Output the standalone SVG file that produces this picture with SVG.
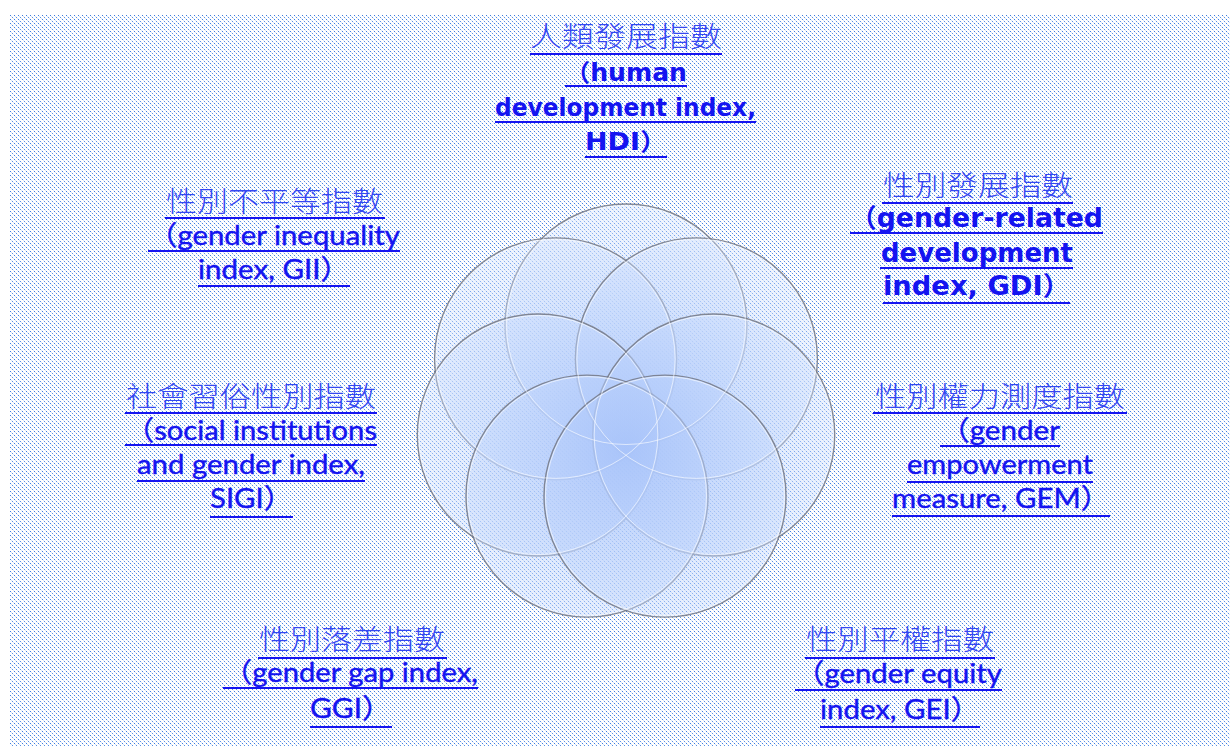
<svg xmlns="http://www.w3.org/2000/svg" width="1230" height="746" viewBox="0 0 1230 746">
<defs>
<pattern id="dots" x="10" y="15" width="4" height="4" patternUnits="userSpaceOnUse">
<rect x="0" y="0" width="1" height="1" fill="#3f7ee0"/>
<rect x="2" y="2" width="1" height="1" fill="#5b91e4"/>
<rect x="1" y="1" width="1" height="1" fill="#d6e3f8"/>
<rect x="3" y="3" width="1" height="1" fill="#dbe6f8"/>
</pattern>
<radialGradient id="cg" gradientUnits="userSpaceOnUse" cx="626" cy="450" r="230">
<stop offset="0" stop-color="#a9c4fa" stop-opacity="0.62"/>
<stop offset="0.6" stop-color="#c3d7fc" stop-opacity="0.48"/>
<stop offset="1" stop-color="#d6e4fd" stop-opacity="0.38"/>
</radialGradient>
</defs>
<style>
.cjk{font-family:"Noto Sans CJK TC","Noto Sans CJK SC",sans-serif;font-weight:300;font-size:28px;fill:#3447f2}
.en{font-family:"Lato","Noto Sans CJK TC",sans-serif;font-size:27px;fill:#1414f0;stroke:#1414f0;stroke-width:0.4}
.enb{font-family:"DejaVu Sans","Noto Sans CJK TC",sans-serif;font-weight:bold;fill:#1414f0}
.ul{stroke:#1414f0;stroke-width:2;fill:none}
.c{fill:url(#cg);stroke:#737782;stroke-width:1.4;stroke-opacity:0.85}
.ci{fill:none;stroke:#ffffff;stroke-width:1;stroke-opacity:0.6}
</style>
<rect width="1230" height="746" fill="#ffffff"/>
<rect x="10" y="15" width="1220" height="731" fill="url(#dots)"/>

<g id="circles">
<circle class="c" cx="626" cy="325" r="121"/>
<circle class="c" cx="555.6" cy="358.9" r="121"/>
<circle class="c" cx="696.4" cy="358.9" r="121"/>
<circle class="c" cx="538.3" cy="435" r="121"/>
<circle class="c" cx="713.7" cy="435" r="121"/>
<circle class="c" cx="587" cy="496.1" r="121"/>
<circle class="c" cx="665" cy="496.1" r="121"/>
<circle class="ci" cx="626" cy="325" r="119.5"/>
<circle class="ci" cx="555.6" cy="358.9" r="119.5"/>
<circle class="ci" cx="696.4" cy="358.9" r="119.5"/>
<circle class="ci" cx="538.3" cy="435" r="119.5"/>
<circle class="ci" cx="713.7" cy="435" r="119.5"/>
<circle class="ci" cx="587" cy="496.1" r="119.5"/>
<circle class="ci" cx="665" cy="496.1" r="119.5"/>
</g>

<g id="connectors"></g>

<g id="hdi">
<text class="cjk" x="530" y="47" textLength="192" lengthAdjust="spacingAndGlyphs">人類發展指數</text>
<text class="enb" font-size="24" x="565" y="81" textLength="122" lengthAdjust="spacingAndGlyphs">（human</text>
<text class="enb" font-size="24" x="495" y="116" textLength="261" lengthAdjust="spacingAndGlyphs">development index,</text>
<text class="enb" font-size="24" x="585" y="150" textLength="82" lengthAdjust="spacingAndGlyphs">HDI）</text>
<path class="ul" d="M530 54H722M565 86H687M495 122H756M585 157H667"/>
</g>

<g id="gdi">
<text class="cjk" x="883" y="196" textLength="190" lengthAdjust="spacingAndGlyphs">性別發展指數</text>
<text class="enb" font-size="26" x="850" y="227" textLength="253" lengthAdjust="spacingAndGlyphs">（gender-related</text>
<text class="enb" font-size="26" x="881" y="262" textLength="192" lengthAdjust="spacingAndGlyphs">development</text>
<text class="enb" font-size="26" x="883" y="295" textLength="187" lengthAdjust="spacingAndGlyphs">index, GDI）</text>
<path class="ul" d="M882 203H1073M850 233H1103M880 268H1073M883 303H1070"/>
</g>

<g id="gii">
<text class="cjk" x="166" y="212" textLength="217" lengthAdjust="spacingAndGlyphs">性別不平等指數</text>
<text class="en" x="148" y="245" textLength="252" lengthAdjust="spacingAndGlyphs">（gender inequality</text>
<text class="en" x="198" y="279" textLength="152" lengthAdjust="spacingAndGlyphs">index, GII）</text>
<path class="ul" d="M165 218H385M148 251H400M198 286H350"/>
</g>

<g id="sigi">
<text class="cjk" x="126" y="407" textLength="250" lengthAdjust="spacingAndGlyphs">社會習俗性別指數</text>
<text class="en" x="125" y="440" textLength="252" lengthAdjust="spacingAndGlyphs">（social institutions</text>
<text class="en" x="137" y="474" textLength="228" lengthAdjust="spacingAndGlyphs">and gender index,</text>
<text class="en" x="210" y="508" textLength="83" lengthAdjust="spacingAndGlyphs">SIGI）</text>
<path class="ul" d="M125 413H377M125 445H377M137 481H365M210 517H293"/>
</g>

<g id="gem">
<text class="cjk" x="875" y="407" textLength="250" lengthAdjust="spacingAndGlyphs">性別權力測度指數</text>
<text class="en" x="940" y="440" textLength="120" lengthAdjust="spacingAndGlyphs">（gender</text>
<text class="en" x="907" y="474" textLength="186" lengthAdjust="spacingAndGlyphs">empowerment</text>
<text class="en" x="892" y="508" textLength="218" lengthAdjust="spacingAndGlyphs">measure, GEM）</text>
<path class="ul" d="M873 413H1127M940 446H1060M907 482H1093M892 516H1110"/>
</g>

<g id="ggi">
<text class="cjk" x="259" y="650" textLength="186" lengthAdjust="spacingAndGlyphs">性別落差指數</text>
<text class="en" x="223" y="682" textLength="255" lengthAdjust="spacingAndGlyphs">（gender gap index,</text>
<text class="en" x="310" y="718" textLength="82" lengthAdjust="spacingAndGlyphs">GGI）</text>
<path class="ul" d="M258 658H447M223 688H478M310 727H392"/>
</g>

<g id="gei">
<text class="cjk" x="806" y="650" textLength="188" lengthAdjust="spacingAndGlyphs">性別平權指數</text>
<text class="en" x="795" y="683" textLength="207" lengthAdjust="spacingAndGlyphs">（gender equity</text>
<text class="en" x="820" y="719" textLength="160" lengthAdjust="spacingAndGlyphs">index, GEI）</text>
<path class="ul" d="M805 658H995M795 690H1002M820 727H980"/>
</g>
</svg>
